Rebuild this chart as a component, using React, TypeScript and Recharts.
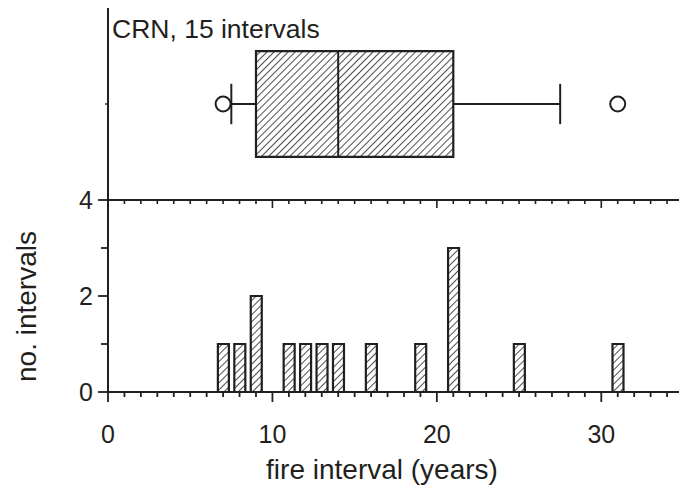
import React from 'react';
import {
  ComposedChart,
  Bar,
  Scatter,
  XAxis,
  YAxis,
  ReferenceArea,
  ReferenceLine,
} from 'recharts';

// Fire-free intervals (years) and how many times each one occurred
const intervalYears = [7, 8, 9, 11, 12, 13, 14, 16, 19, 21, 25, 31];
const intervalCounts = [1, 1, 2, 1, 1, 1, 1, 1, 1, 3, 1, 1];

// Box plot summary of the same 15 intervals
const whiskerLow = 7.5;
const quartileLow = 9;
const medianYears = 14;
const quartileHigh = 21;
const whiskerHigh = 27.5;
const outlierYears = [7, 31];

const xTickLabels = [0, 10, 20, 30];
const xTicks = Array.from({ length: 36 }, (_, i) => i);
const yTicks = [0, 1, 2, 3, 4];

const INK = '#231f20';
const FONT = "'Liberation Sans', Arial, Helvetica, sans-serif";

const histData = intervalYears.map((year, i) => ({ year, count: intervalCounts[i] }));
const outlierData = outlierYears.map((x) => ({ x, y: 2 }));

function HistBottomTick({ x, y, payload }: any) {
  const v = payload.value;
  const major = xTickLabels.includes(v);
  return (
    <g>
      <line x1={x} y1={y} x2={x} y2={y + (major ? 10 : 5)} stroke={INK} strokeWidth={1.8} />
      {major && (
        <text x={x} y={y + 51} textAnchor="middle" fontSize={25} fill={INK}>
          {v}
        </text>
      )}
    </g>
  );
}

function BoxBottomTick({ x, y, payload }: any) {
  const major = xTickLabels.includes(payload.value);
  return <line x1={x} y1={y} x2={x} y2={y + (major ? 8 : 4)} stroke={INK} strokeWidth={1.6} />;
}

function LeftCountTick({ x, y, payload }: any) {
  const v = payload.value;
  const major = v % 2 === 0;
  return (
    <g>
      <line x1={x - (major ? 10 : 7)} y1={y} x2={x} y2={y} stroke={INK} strokeWidth={1.8} />
      {major && (
        <text x={x - 15} y={y} dy={9} textAnchor="end" fontSize={25} fill={INK}>
          {v}
        </text>
      )}
    </g>
  );
}

function RightCountTick({ x, y, payload }: any) {
  const major = payload.value % 2 === 0;
  return <line x1={x - (major ? 9 : 7)} y1={y} x2={x} y2={y} stroke={INK} strokeWidth={1.8} />;
}

function BoxLeftTick({ x, y }: any) {
  return <line x1={x - 3} y1={y} x2={x} y2={y} stroke={INK} strokeWidth={1.4} />;
}

function OutlierDot({ cx, cy }: any) {
  return <circle cx={cx} cy={cy} r={7.5} fill="#fff" stroke={INK} strokeWidth={2} />;
}

function Hatch({ id }: { id: string }) {
  return (
    <defs>
      <pattern id={id} width={5} height={5} patternUnits="userSpaceOnUse" patternTransform="rotate(45)">
        <rect width={5} height={5} fill="#fff" />
        <line x1={0} y1={0} x2={0} y2={5} stroke={INK} strokeWidth={1.6} />
      </pattern>
    </defs>
  );
}

export default function App() {
  const axisLine = { stroke: INK, strokeWidth: 2 };
  return (
    <div
      style={{
        position: 'fixed',
        left: 0,
        top: 0,
        width: 679,
        height: 487,
        overflow: 'hidden',
        background: '#fff',
        fontFamily: FONT,
      }}
    >
      {/* box plot panel */}
      <div style={{ position: 'absolute', left: 0, top: 0 }}>
        <ComposedChart width={720} height={210} margin={{ top: 8, right: 36.5, bottom: 0, left: 48 }}>
          <Hatch id="boxHatch" />
          <XAxis
            dataKey="x"
            type="number"
            domain={[0, 35]}
            ticks={xTicks}
            interval={0}
            height={10}
            tickSize={0}
            tickMargin={0}
            tickLine={false}
            tick={<BoxBottomTick />}
            axisLine={axisLine}
            allowDataOverflow
          />
          <XAxis xAxisId="top" orientation="top" type="number" domain={[0, 35]} height={0} tick={false} tickLine={false} axisLine={axisLine} />
          <YAxis
            dataKey="y"
            type="number"
            domain={[0, 4]}
            ticks={[2]}
            width={60}
            tickSize={0}
            tickMargin={0}
            tickLine={false}
            tick={<BoxLeftTick />}
            axisLine={axisLine}
          />
          <ReferenceLine segment={[{ x: whiskerLow, y: 2 }, { x: quartileLow, y: 2 }]} stroke={INK} strokeWidth={2} />
          <ReferenceLine segment={[{ x: quartileHigh, y: 2 }, { x: whiskerHigh, y: 2 }]} stroke={INK} strokeWidth={2} />
          <ReferenceLine segment={[{ x: whiskerLow, y: 1.58 }, { x: whiskerLow, y: 2.42 }]} stroke={INK} strokeWidth={2} />
          <ReferenceLine segment={[{ x: whiskerHigh, y: 1.58 }, { x: whiskerHigh, y: 2.42 }]} stroke={INK} strokeWidth={2} />
          <ReferenceArea
            x1={quartileLow}
            x2={quartileHigh}
            y1={0.9}
            y2={3.1}
            fill="url(#boxHatch)"
            fillOpacity={1}
            stroke={INK}
            strokeWidth={2.2}
          />
          <ReferenceLine segment={[{ x: medianYears, y: 0.9 }, { x: medianYears, y: 3.1 }]} stroke={INK} strokeWidth={2} />
          <Scatter data={outlierData} shape={<OutlierDot />} isAnimationActive={false} />
        </ComposedChart>
      </div>

      {/* histogram panel */}
      <div style={{ position: 'absolute', left: 0, top: 0 }}>
        <ComposedChart
          width={720}
          height={487}
          data={histData}
          margin={{ top: 200, right: 26.5, bottom: 55, left: 48 }}
        >
          <Hatch id="barHatch" />
          <XAxis
            dataKey="year"
            type="number"
            domain={[0, 35]}
            ticks={xTicks}
            interval={0}
            height={40}
            tickSize={0}
            tickMargin={0}
            tickLine={false}
            tick={<HistBottomTick />}
            axisLine={axisLine}
            allowDataOverflow
          />
          <YAxis
            type="number"
            domain={[0, 4]}
            ticks={yTicks}
            interval={0}
            width={60}
            tickSize={0}
            tickMargin={0}
            tickLine={false}
            tick={<LeftCountTick />}
            axisLine={axisLine}
          />
          <YAxis
            yAxisId="right"
            orientation="right"
            type="number"
            domain={[0, 4]}
            ticks={yTicks}
            interval={0}
            width={10}
            tickSize={0}
            tickMargin={0}
            tickLine={false}
            tick={<RightCountTick />}
            axisLine={axisLine}
          />
          <Bar
            dataKey="count"
            barSize={11}
            fill="url(#barHatch)"
            stroke={INK}
            strokeWidth={2.2}
            isAnimationActive={false}
          />
        </ComposedChart>
      </div>

      <svg
        width={679}
        height={487}
        style={{ position: 'absolute', left: 0, top: 0, pointerEvents: 'none' }}
      >
        <text x={112} y={38} fontSize={26.5} fill={INK}>
          CRN, 15 intervals
        </text>
        <text x={382} y={479} fontSize={28} textAnchor="middle" fill={INK}>
          fire interval (years)
        </text>
        <text x={36} y={306.5} fontSize={28} textAnchor="middle" fill={INK} transform="rotate(-90 36 306.5)">
          no. intervals
        </text>
      </svg>
    </div>
  );
}
